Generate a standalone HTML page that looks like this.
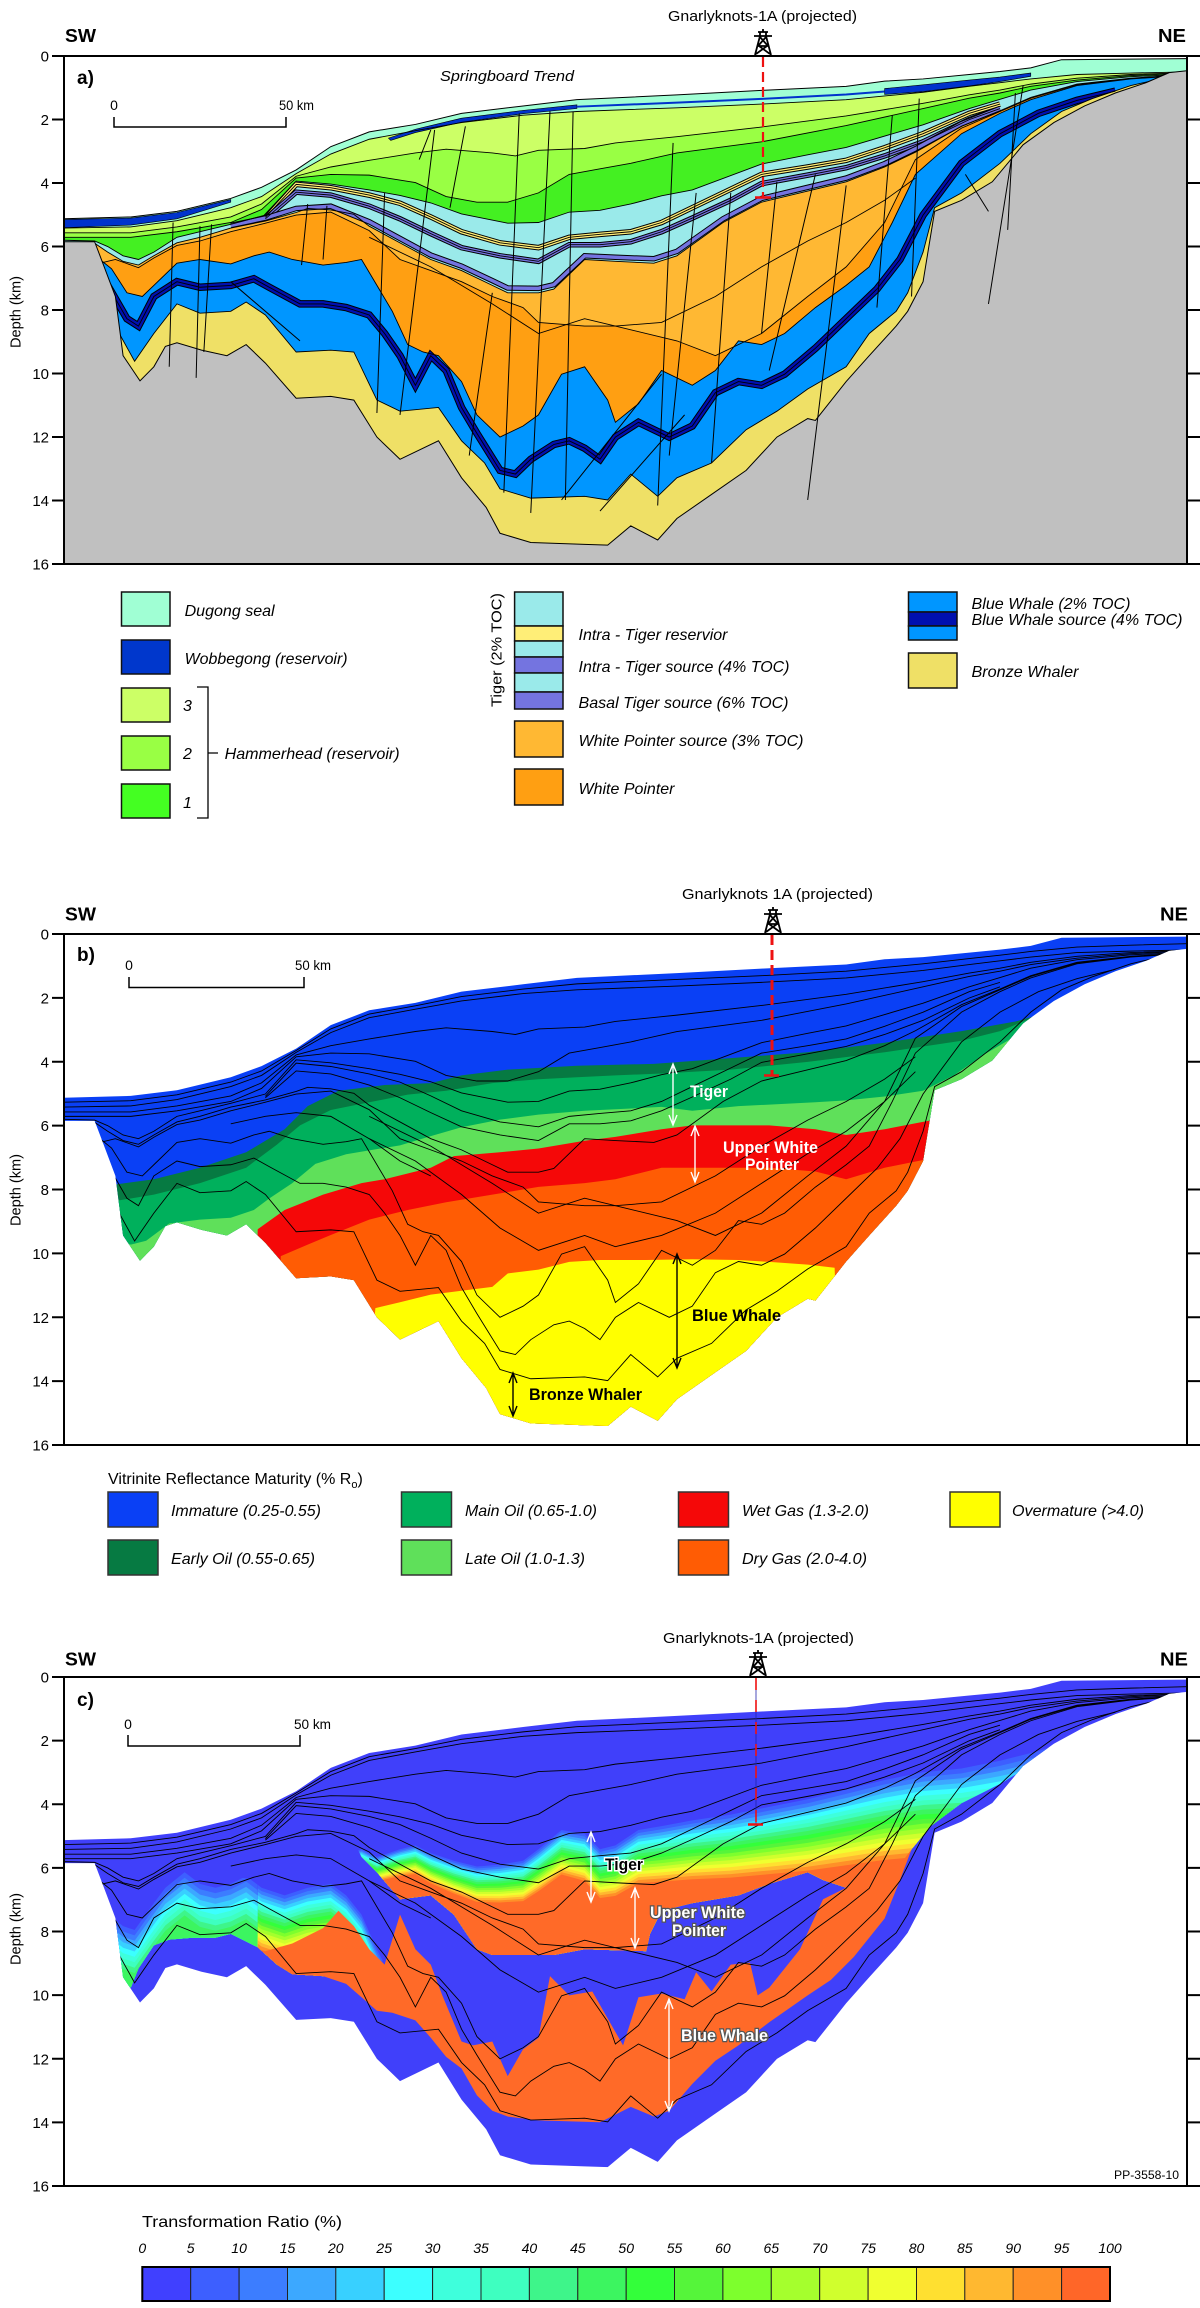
<!DOCTYPE html>
<html><head><meta charset="utf-8">
<style>
html,body{margin:0;padding:0;background:#fff;}
svg{display:block;}
text{font-family:"Liberation Sans",Arial,sans-serif;fill:#000;}
.it{font-style:italic;}
.lbl{font-size:16px;font-style:italic;}
.tk{font-size:15px;}
.hz path{vector-effect:non-scaling-stroke;}
</style></head>
<body>
<svg width="1200" height="2308" viewBox="0 0 1200 2308" xmlns="http://www.w3.org/2000/svg" xmlns:xlink="http://www.w3.org/1999/xlink">
<defs>
<path id="sil" d="M83,590 L170,585 L230,570 L300,535 L340,505 L385,458 L430,395 L480,355 L540,335 L600,305 L680,285 L750,268 L880,255 L990,243 L1100,232 L1150,218 L1200,212 L1260,200 L1300,192 L1340,182 L1380,160 L1543,157 L1543,190 L1520,195 L1490,222 L1450,250 L1410,285 L1370,330 L1330,390 L1290,490 L1250,540 L1215,570 L1200,760 L1180,840 L1165,880 L1130,960 L1100,1030 L1060,1135 L1050,1130 L1010,1180 L970,1270 L925,1335 L880,1400 L855,1458 L820,1420 L790,1472 L760,1470 L690,1465 L650,1440 L632,1370 L600,1290 L570,1190 L520,1240 L490,1180 L460,1080 L430,1070 L385,1075 L345,980 L320,930 L295,960 L262,945 L230,925 L215,935 L200,990 L182,1028 L160,960 L150,800 L130,690 L123,652 L83,652 Z"/>
<clipPath id="cA"><use href="#sil"/></clipPath>
<clipPath id="cB"><use href="#sil" transform="translate(0,47.24) scale(1,0.96767)"/></clipPath>
<clipPath id="cC"><use href="#sil" transform="translate(0,107.64) scale(1,0.96387)"/></clipPath>
<clipPath id="cU"><path d="M460,680 L700,600 L1000,555 L1200,470 L1400,370 L1420,380 L1350,470 L1300,530 L1250,580 L1210,640 L1185,700 L1170,760 L1150,820 L1100,800 L1070,780 L1050,760 L1000,790 L960,820 L900,840 L860,860 L845,920 L840,965 L760,960 L720,975 L640,975 L620,960 L590,870 L560,820 L520,830 L490,760 L470,720 Z"/></clipPath>
<clipPath id="cSL"><path d="M120,850 L160,880 L200,820 L240,740 L300,770 L335,780 L335,955 L320,940 L300,920 L280,930 L250,930 L220,935 L200,950 L180,1010 L170,1060 L155,1040 L140,1000 L130,900 Z"/></clipPath>
<clipPath id="cSR"><path d="M335,700 L400,780 L440,770 L470,850 L500,990 L480,1000 L450,1040 L420,1030 L380,1025 L360,1000 L335,955 Z"/></clipPath>
<path id="t1" d="M460,1600 L460,705 L470,700 L490,720 L520,700 L540,690 L560,710 L590,730 L620,745 L650,740 L680,730 L700,700 L730,650 L760,660 L780,700 L800,690 L830,650 L860,640 L900,625 L950,610 L1000,590 L1050,570 L1100,545 L1150,520 L1200,500 L1250,490 L1300,470 L1350,445 L1400,410 L1560,330 L1560,1600 Z"/>
<path id="t2" d="M125,1600 L125,860 L135,860 L160,900 L175,910 L200,840 L215,800 L240,760 L260,790 L280,800 L300,790 L320,770 L340,800 L370,820 L400,800 L430,790 L450,820 L470,870 L490,960 L500,1000 L510,1600 Z"/>
<g id="hz" class="hz">
<path d="M83,615 L170,612 L230,595 L300,560 L340,530 L385,468 L430,415 L480,375 L540,352 L600,330 L680,310 L750,300 L880,290 L990,280 L1100,268 L1200,248 L1260,232 L1300,222 L1340,212 L1400,200 L1470,196 L1543,193"/>
<path d="M83,628 L170,628 L230,612 L300,585 L340,550 L385,475 L430,450 L480,432 L540,412 L580,402 L640,412 L670,420 L700,405 L760,400 L800,385 L880,368 L990,342 L1100,312 L1200,278 L1260,255 L1300,242 L1340,226 L1400,210 L1470,200 L1543,195"/>
<path d="M83,640 L170,640 L230,625 L300,600 L340,565 L385,480 L430,470 L480,472 L540,492 L580,530 L620,545 L660,545 L700,520 L740,470 L780,455 L820,440 L880,412 L990,382 L1100,338 L1200,292 L1260,264 L1300,250 L1340,232 L1400,215 L1470,203 L1543,196"/>
<path d="M83,648 L123,650 L140,665 L160,690 L180,700 L200,680 L230,640 L260,625 L300,605 L345,580 L385,488 L430,496 L480,512 L520,527 L560,547 L600,577 L660,602 L700,600 L740,572 L780,567 L820,550 L860,528 L900,512 L990,442 L1050,417 L1100,397 L1200,336 L1260,292 L1300,267 L1340,242 L1400,219 L1470,206 L1543,199"/>
<path d="M345,586 L385,497 L430,506 L480,526 L520,548 L560,585 L600,625 L650,655 L700,668 L740,640 L780,632 L820,625 L860,600 L900,560 L950,510 L990,470 L1050,450 L1100,432 L1150,398 L1200,360 L1260,305 L1300,280"/>
<path d="M345,590 L385,518 L430,526 L480,556 L520,590 L560,630 L600,668 L650,690 L700,705 L740,660 L780,660 L820,652 L860,625 L900,588 L950,540 L990,495 L1050,472 L1100,452 L1150,420 L1200,382 L1260,322 L1300,292"/>
<path d="M83,655 L123,656 L140,680 L160,705 L180,715 L200,690 L230,655 L260,640 L300,615 L345,596 L385,573 L400,562 L430,566 L460,578 L480,610 L520,655 L560,700 L600,730 L640,770 L660,790 L700,790 L720,780 L760,700 L800,705 L850,710 L880,690 L940,600 L990,545 L1050,515 L1100,490 L1150,450 L1190,410 L1250,340 L1300,298 L1340,262 L1400,226 L1470,210 L1543,200"/>
<path d="M83,700 L130,710 L150,700 L180,722 L200,696 L230,662 L260,650 L300,625 L345,602 L385,580 L430,572 L480,622 L520,700 L560,730 L600,760 L640,800 L680,830 L700,870 L760,880 L800,880 L880,920 L930,960 L990,900 L1050,800 L1100,720 L1150,600 L1190,430 L1250,345 L1300,300 L1340,264 L1400,228 L1470,211 L1543,201"/>
<path d="M480,640 L560,720 L640,820 L700,900 L760,860 L800,880 L860,870 L930,800 L990,720 L1050,650 L1100,600 L1150,540 L1190,480"/>
<path d="M83,720 L130,700 L145,725 L165,790 L185,800 L200,770 L230,710 L260,700 L300,712 L330,690 L350,680 L380,700 L420,715 L450,708 L470,700 L490,770 L510,840 L530,930 L550,950 L570,960 L600,1030 L620,1120 L650,1180 L680,1150 L700,1120 L730,1010 L760,990 L790,1080 L800,1140 L830,1090 L860,1000 L900,1040 L930,1000 L960,920 L990,930 L1020,900 L1060,830 L1100,770 L1130,720 L1160,600 L1190,470 L1250,360 L1300,305 L1340,268 L1400,230 L1470,212 L1543,202"/>
<path d="M140,770 L165,860 L180,880 L200,800 L230,760 L260,775 L300,770 L330,752 L350,775 L390,820 L420,820 L450,830 L480,850 L500,900 L520,960 L540,1040 L560,960 L580,1000 L600,1100 L620,1170 L650,1270 L670,1280 L690,1240 L720,1200 L740,1190 L760,1210 L780,1240 L800,1180 L830,1140 L870,1180 L900,1150 L930,1060 L960,1030 L990,1040 L1020,1010 L1060,940 L1100,860 L1140,780 L1170,700 L1200,580 L1250,440 L1300,360 L1350,305 L1400,270 L1450,245"/>
<path d="M83,760 L140,780 L155,900 L175,975 L200,900 L230,820 L260,845 L300,840 L320,815 L345,850 L385,950 L430,945 L460,950 L490,1080 L520,1110 L570,1100 L600,1190 L630,1250 L650,1320 L690,1345 L760,1340 L790,1350 L820,1280 L855,1340 L880,1290 L925,1250 L970,1160 L1010,1110 L1050,1050 L1100,990 L1130,900 L1165,840 L1180,790 L1200,680 L1215,560 L1250,520 L1300,440 L1340,360 L1380,300 L1420,265 L1470,230 L1543,195"/>
</g>
<g id="hz2" class="hz">
<path d="M83,602 L170,598 L230,582 L300,548 L340,518 L385,463 L430,405 L480,365 L540,343 L600,318 L680,298 L750,284 L880,272 L990,262 L1100,250 L1200,230 L1260,216 L1300,207 L1340,197 L1400,185 L1470,180 L1543,176"/>
<path d="M480,700 L540,760 L600,850 L650,940 L700,1000 L760,960 L800,990 L860,960 L930,900 L990,820 L1050,740 L1100,680 L1150,600 L1190,520"/>
<path d="M300,660 L345,640 L385,630 L430,640 L480,700 L520,760 L560,800"/>
</g>
<g id="rig" fill="none" stroke="#000" stroke-width="1.8">
<path d="M-8,0 L-3,-19 M8,0 L3,-19 M-9,-19 H9 M-5,-23 H5 M-3,-19 V-23 M3,-19 V-23 M0,-23 V-26 M-6,-9 H6 M-7,-1 L4,-9 M7,-1 L-4,-9 M-5,-9 L3,-18 M5,-9 L-3,-18"/>
</g>
</defs>

<!-- ================= PANEL A ================= -->
<rect x="64" y="56" width="1123" height="508" fill="#c0c0c0"/>
<g transform="translate(0,0.5) scale(0.76923,0.36999)">
 <path d="M83,150 L83,590 L170,585 L230,570 L300,535 L340,505 L385,458 L430,395 L480,355 L540,335 L600,305 L680,285 L750,268 L880,255 L990,243 L1100,232 L1150,218 L1200,212 L1260,200 L1300,192 L1340,182 L1380,160 L1543,157 L1543,150 Z" fill="#fff"/>
 <g clip-path="url(#cA)">
  <rect x="0" y="100" width="1600" height="1500" fill="#a0ffd4"/>
  <path fill="#ccff66" d="M83,1600 L83,615 L170,612 L230,595 L300,560 L340,530 L385,468 L430,415 L480,375 L540,352 L600,330 L680,310 L750,300 L880,290 L990,280 L1100,268 L1200,248 L1260,232 L1300,222 L1340,212 L1400,200 L1470,196 L1543,193 L1543,1600 Z"/>
  <path fill="#99ff44" d="M83,1600 L83,628 L170,628 L230,612 L300,585 L340,550 L385,475 L430,450 L480,432 L540,412 L580,402 L640,412 L670,420 L700,405 L760,400 L800,385 L880,368 L990,342 L1100,312 L1200,278 L1260,255 L1300,242 L1340,226 L1400,210 L1470,200 L1543,195 L1543,1600 Z"/>
  <path fill="#44f022" d="M83,1600 L83,640 L170,640 L230,625 L300,600 L340,565 L385,480 L430,470 L480,472 L540,492 L580,530 L620,545 L660,545 L700,520 L740,470 L780,455 L820,440 L880,412 L990,382 L1100,338 L1200,292 L1260,264 L1300,250 L1340,232 L1400,215 L1470,203 L1543,196 L1543,1600 Z"/>
  <path fill="#9aeaea" d="M83,1600 L83,648 L123,650 L140,665 L160,690 L180,700 L200,680 L230,640 L260,625 L300,605 L345,580 L385,488 L430,496 L480,512 L520,527 L560,547 L600,577 L660,602 L700,600 L740,572 L780,567 L820,550 L860,528 L900,512 L990,442 L1050,417 L1100,397 L1200,336 L1260,292 L1300,267 L1340,242 L1400,219 L1470,206 L1543,199 L1543,1600 Z"/>
  <path fill="#ffb833" d="M83,1600 L83,655 L123,656 L140,680 L160,705 L180,715 L200,690 L230,655 L260,640 L300,615 L345,596 L385,573 L400,562 L430,566 L460,578 L480,610 L520,655 L560,700 L600,730 L640,770 L660,790 L700,790 L720,780 L760,700 L800,705 L850,710 L880,690 L940,600 L990,545 L1050,515 L1100,490 L1150,450 L1190,410 L1250,340 L1300,298 L1340,262 L1400,226 L1470,210 L1543,200 L1543,1600 Z"/>
  <path fill="#ff9f12" d="M83,1600 L83,700 L130,710 L150,700 L180,722 L200,696 L230,662 L260,650 L300,625 L345,602 L385,580 L430,572 L480,622 L520,700 L560,730 L600,760 L640,800 L680,830 L700,870 L760,880 L800,880 L880,920 L930,960 L990,900 L1050,800 L1100,720 L1150,600 L1190,430 L1250,345 L1300,300 L1340,264 L1400,228 L1470,211 L1543,201 L1543,1600 Z"/>
  <path fill="#0096ff" d="M83,1600 L83,720 L130,700 L145,725 L165,790 L185,800 L200,770 L230,710 L260,700 L300,712 L330,690 L350,680 L380,700 L420,715 L450,708 L470,700 L490,770 L510,840 L530,930 L550,950 L570,960 L600,1030 L620,1120 L650,1180 L680,1150 L700,1120 L730,1010 L760,990 L790,1080 L800,1140 L830,1090 L860,1000 L900,1040 L930,1000 L960,920 L990,930 L1020,900 L1060,830 L1100,770 L1130,720 L1160,600 L1190,470 L1250,360 L1300,305 L1340,268 L1400,230 L1470,212 L1543,202 L1543,1600 Z"/>
  <path fill="none" stroke="#000" stroke-width="7.5" vector-effect="non-scaling-stroke" d="M140,770 L165,860 L180,880 L200,800 L230,760 L260,775 L300,770 L330,752 L350,775 L390,820 L420,820 L450,830 L480,850 L500,900 L520,960 L540,1040 L560,960 L580,1000 L600,1100 L620,1170 L650,1270 L670,1280 L690,1240 L720,1200 L740,1190 L760,1210 L780,1240 L800,1180 L830,1140 L870,1180 L900,1150 L930,1060 L960,1030 L990,1040 L1020,1010 L1060,940 L1100,860 L1140,780 L1170,700 L1200,580 L1250,440 L1300,360 L1350,305 L1400,270 L1450,245"/>
  <path fill="none" stroke="#0010b0" stroke-width="5.5" vector-effect="non-scaling-stroke" d="M140,770 L165,860 L180,880 L200,800 L230,760 L260,775 L300,770 L330,752 L350,775 L390,820 L420,820 L450,830 L480,850 L500,900 L520,960 L540,1040 L560,960 L580,1000 L600,1100 L620,1170 L650,1270 L670,1280 L690,1240 L720,1200 L740,1190 L760,1210 L780,1240 L800,1180 L830,1140 L870,1180 L900,1150 L930,1060 L960,1030 L990,1040 L1020,1010 L1060,940 L1100,860 L1140,780 L1170,700 L1200,580 L1250,440 L1300,360 L1350,305 L1400,270 L1450,245"/>
  <path fill="#efe066" d="M83,1600 L83,760 L140,780 L155,900 L175,975 L200,900 L230,820 L260,845 L300,840 L320,815 L345,850 L385,950 L430,945 L460,950 L490,1080 L520,1110 L570,1100 L600,1190 L630,1250 L650,1320 L690,1345 L760,1340 L790,1350 L820,1280 L855,1340 L880,1290 L925,1250 L970,1160 L1010,1110 L1050,1050 L1100,990 L1130,900 L1165,840 L1180,790 L1200,680 L1215,560 L1250,520 L1300,440 L1340,360 L1380,300 L1420,265 L1470,230 L1543,195 L1543,1600 Z"/>
  <!-- wobbegong -->
  <path fill="#0033cc" stroke="#000" stroke-width="0.6" vector-effect="non-scaling-stroke" d="M83,592 L170,588 L230,573 L300,538 L300,545 L230,590 L170,607 L83,614 Z"/>
  <path fill="#0033cc" stroke="#000" stroke-width="0.6" vector-effect="non-scaling-stroke" d="M505,372 L540,348 L600,318 L680,297 L750,282 L750,292 L680,306 L600,329 L540,357 L508,378 Z"/>
  <path fill="#0033cc" stroke="#000" stroke-width="0.6" vector-effect="non-scaling-stroke" d="M1150,238 L1200,228 L1260,215 L1300,207 L1340,196 L1340,205 L1300,219 L1260,231 L1200,246 L1150,254 Z"/>
  <path fill="none" stroke="#0033cc" stroke-width="2" vector-effect="non-scaling-stroke" d="M750,287 L880,276 L990,266 L1100,254 L1150,246"/>
  <!-- intra tiger -->
  <g fill="none">
   <path stroke="#000" stroke-width="5.5" vector-effect="non-scaling-stroke" d="M345,586 L385,497 L430,506 L480,526 L520,548 L560,585 L600,625 L650,655 L700,668 L740,640 L780,632 L820,625 L860,600 L900,560 L950,510 L990,470 L1050,450 L1100,432 L1150,398 L1200,360 L1260,305 L1300,280"/>
   <path stroke="#ffee77" stroke-width="3.5" vector-effect="non-scaling-stroke" d="M345,586 L385,497 L430,506 L480,526 L520,548 L560,585 L600,625 L650,655 L700,668 L740,640 L780,632 L820,625 L860,600 L900,560 L950,510 L990,470 L1050,450 L1100,432 L1150,398 L1200,360 L1260,305 L1300,280"/>
   <path stroke="#000" stroke-width="5.5" vector-effect="non-scaling-stroke" d="M345,590 L385,518 L430,526 L480,556 L520,590 L560,630 L600,668 L650,690 L700,705 L740,660 L780,660 L820,652 L860,625 L900,588 L950,540 L990,495 L1050,472 L1100,452 L1150,420 L1200,382 L1260,322 L1300,292"/>
   <path stroke="#7474e0" stroke-width="3.5" vector-effect="non-scaling-stroke" d="M345,590 L385,518 L430,526 L480,556 L520,590 L560,630 L600,668 L650,690 L700,705 L740,660 L780,660 L820,652 L860,625 L900,588 L950,540 L990,495 L1050,472 L1100,452 L1150,420 L1200,382 L1260,322 L1300,292"/>
   <path stroke="#000" stroke-width="5.5" vector-effect="non-scaling-stroke" d="M300,608 L345,588 L385,562 L430,556 L480,598 L520,643 L560,688 L600,718 L640,757 L660,777 L700,778 L720,768 L760,690 L800,694 L850,698 L880,678 L940,590 L990,535 L1050,505 L1100,480 L1150,441 L1190,401 L1250,333 L1300,292"/>
   <path stroke="#7474e0" stroke-width="3.5" vector-effect="non-scaling-stroke" d="M300,608 L345,588 L385,562 L430,556 L480,598 L520,643 L560,688 L600,718 L640,757 L660,777 L700,778 L720,768 L760,690 L800,694 L850,698 L880,678 L940,590 L990,535 L1050,505 L1100,480 L1150,441 L1190,401 L1250,333 L1300,292"/>
  </g>
  <use href="#hz" fill="none" stroke="#000" stroke-width="0.9"/>
 </g>
 <g class="hz" fill="none" stroke="#000" stroke-width="1">
  <path d="M83,590 L170,585 L230,570 L300,535 L340,505 L385,458 L430,395 L480,355 L540,335 L600,305 L680,285 L750,268 L880,255 L990,243 L1100,232 L1150,218 L1200,212 L1260,200 L1300,192 L1340,182 L1380,160 L1543,157"/>
  <path d="M83,652 L123,652 L130,690 L150,800 L160,960 L182,1028 L200,990 L215,935 L230,925 L262,945 L295,960 L320,930 L345,980 L385,1075 L430,1070 L460,1080 L490,1180 L520,1240 L570,1190 L600,1290 L632,1370 L650,1440 L690,1465 L760,1470 L790,1472 L820,1420 L855,1458 L880,1400 L925,1335 L970,1270 L1010,1180 L1050,1130 L1060,1135 L1100,1030 L1130,960 L1165,880 L1180,840 L1200,760 L1215,570 L1250,540 L1290,490 L1330,390 L1370,330 L1410,285 L1450,250 L1490,222 L1520,195 L1543,190"/>
  <path d="M565,350 L520,1120 M605,340 L585,560 M675,305 L655,1330 M715,300 L690,1385 M745,300 L735,1350 M875,385 L855,1365 M1100,500 L1050,1350 M1195,265 L1185,800 M1330,230 L1285,820 M1320,250 L1310,620 M1160,310 L1140,830 M400,550 L392,715 M425,555 L420,700 M260,610 L255,1020 M225,600 L220,990 M275,605 L265,950 M500,520 L490,1115 M1060,470 L1000,1000 M950,520 L925,1250 M905,520 L870,1230 M780,1380 L890,1120 M730,1350 L860,1010 M640,790 L610,1230 M1255,470 L1285,570 M1010,490 L990,900 M545,430 L560,350 M300,760 L390,920"/>
 </g>
</g>
<!-- frame a -->
<rect x="64" y="56" width="1123" height="508" fill="none" stroke="#000" stroke-width="2"/>
<path d="M52,56 H64 M52,119.5 H64 M52,183 H64 M52,246.5 H64 M52,310 H64 M52,373.5 H64 M52,437 H64 M52,500.5 H64 M52,564 H64 M1187,56 H1200 M1187,119.5 H1200 M1187,183 H1200 M1187,246.5 H1200 M1187,310 H1200 M1187,373.5 H1200 M1187,437 H1200 M1187,500.5 H1200 M1187,564 H1200" stroke="#000" stroke-width="2"/>
<g class="tk" text-anchor="end">
<text x="49" y="61.5">0</text><text x="49" y="125">2</text><text x="49" y="188.5">4</text><text x="49" y="252">6</text><text x="49" y="315.5">8</text><text x="49" y="379">10</text><text x="49" y="442.5">12</text><text x="49" y="506">14</text><text x="49" y="569.5">16</text>
</g>
<text transform="translate(20.5,312) rotate(-90)" text-anchor="middle" font-size="15" textLength="72" lengthAdjust="spacingAndGlyphs">Depth (km)</text>
<text x="65" y="42" font-size="18" font-weight="bold" textLength="31" lengthAdjust="spacingAndGlyphs">SW</text>
<text x="1158" y="42" font-size="18" font-weight="bold" textLength="28" lengthAdjust="spacingAndGlyphs">NE</text>
<text x="668" y="21" font-size="15" textLength="189" lengthAdjust="spacingAndGlyphs">Gnarlyknots-1A (projected)</text>
<use href="#rig" transform="translate(763,55)"/>
<path d="M763,57 V197" stroke="#ee1111" stroke-width="2.2" stroke-dasharray="10,5"/>
<path d="M755,197.5 H771" stroke="#ee1111" stroke-width="2.5"/>
<text x="77" y="84" font-size="19" font-weight="bold">a)</text>
<text x="440" y="81" font-size="15" class="it" textLength="134" lengthAdjust="spacingAndGlyphs">Springboard Trend</text>
<path d="M114,117 V127 H286 V117" fill="none" stroke="#000" stroke-width="1.5"/>
<text x="114" y="110" font-size="14" text-anchor="middle">0</text>
<text x="279" y="110" font-size="14" textLength="35" lengthAdjust="spacingAndGlyphs">50 km</text>

<!-- legend a -->
<g stroke="#111" stroke-width="1.5">
<rect x="121.5" y="592" width="48.5" height="34" fill="#a0ffd4"/>
<rect x="121.5" y="640" width="48.5" height="34" fill="#0037cc"/>
<rect x="121.5" y="688" width="48.5" height="34" fill="#ccff66"/>
<rect x="121.5" y="736" width="48.5" height="34" fill="#99ff44"/>
<rect x="121.5" y="784" width="48.5" height="34" fill="#44ff22"/>
<rect x="514.6" y="592" width="48.4" height="34" fill="#9aeaea"/>
<rect x="514.6" y="626" width="48.4" height="15" fill="#ffee77"/>
<rect x="514.6" y="641" width="48.4" height="16" fill="#9aeaea"/>
<rect x="514.6" y="657" width="48.4" height="16" fill="#7474e0"/>
<rect x="514.6" y="673" width="48.4" height="19" fill="#9aeaea"/>
<rect x="514.6" y="692" width="48.4" height="17" fill="#7474e0"/>
<rect x="514.6" y="721" width="48.4" height="36" fill="#ffb833"/>
<rect x="514.6" y="769" width="48.4" height="36" fill="#ff9f12"/>
<rect x="908.5" y="592" width="48.5" height="20" fill="#0096ff"/>
<rect x="908.5" y="612" width="48.5" height="14" fill="#0010b0"/>
<rect x="908.5" y="626" width="48.5" height="14" fill="#0096ff"/>
<rect x="908.5" y="653" width="48.5" height="35" fill="#efe066"/>
</g>
<path d="M197,687 H208 V818 H197 M208,753 H218" fill="none" stroke="#000" stroke-width="1.3"/>
<g class="lbl">
<text x="184.6" y="616" textLength="90" lengthAdjust="spacingAndGlyphs">Dugong seal</text>
<text x="184.6" y="664" textLength="163" lengthAdjust="spacingAndGlyphs">Wobbegong (reservoir)</text>
<text x="183" y="711">3</text>
<text x="183" y="759">2</text>
<text x="183" y="808">1</text>
<text x="224.6" y="759" textLength="175" lengthAdjust="spacingAndGlyphs">Hammerhead (reservoir)</text>
<text x="578.5" y="640" textLength="149" lengthAdjust="spacingAndGlyphs">Intra - Tiger reservior</text>
<text x="578.5" y="672" textLength="211" lengthAdjust="spacingAndGlyphs">Intra - Tiger source (4% TOC)</text>
<text x="578.5" y="708" textLength="210" lengthAdjust="spacingAndGlyphs">Basal Tiger source (6% TOC)</text>
<text x="578.5" y="746" textLength="225" lengthAdjust="spacingAndGlyphs">White Pointer source (3% TOC)</text>
<text x="578.5" y="794" textLength="96" lengthAdjust="spacingAndGlyphs">White Pointer</text>
<text x="971.5" y="609" textLength="159" lengthAdjust="spacingAndGlyphs">Blue Whale (2% TOC)</text>
<text x="971.5" y="625" textLength="211" lengthAdjust="spacingAndGlyphs">Blue Whale source (4% TOC)</text>
<text x="971.5" y="677" textLength="107" lengthAdjust="spacingAndGlyphs">Bronze Whaler</text>
</g>
<text transform="translate(501.5,650) rotate(-90)" text-anchor="middle" font-size="15" textLength="114" lengthAdjust="spacingAndGlyphs">Tiger (2% TOC)</text>

<!-- ================= PANEL B ================= -->
<g transform="translate(0,860) scale(0.76923,0.384615)">
 <g clip-path="url(#cB)">
  <rect x="0" y="0" width="1600" height="1600" fill="#0a40f5"/>
  <path fill="#067a42" d="M120,1600 L130,860 L145,845 L200,830 L260,800 L320,760 L370,700 L400,640 L440,600 L500,585 L560,580 L600,560 L660,545 L750,535 L850,530 L950,515 L1050,500 L1150,475 L1250,445 L1320,420 L1360,398 L1390,360 L1560,330 L1560,1600 Z"/>
  <path fill="#00b05c" d="M125,1600 L140,890 L200,870 L260,840 L320,800 L360,740 L390,690 L430,650 L480,630 L530,610 L580,600 L640,580 L700,570 L750,565 L800,560 L860,555 L950,545 L1050,525 L1150,500 L1250,470 L1300,445 L1340,412 L1370,385 L1560,365 L1560,1600 Z"/>
  <path fill="#5fe05a" d="M130,1600 L140,975 L170,1000 L190,990 L220,945 L260,935 L300,930 L330,910 L350,880 L380,840 L410,790 L450,765 L480,755 L520,742 L560,718 L600,695 L650,675 L700,662 L760,652 L800,648 L860,642 L900,652 L960,640 L1000,636 L1060,630 L1100,625 L1150,615 L1200,600 L1240,560 L1280,505 L1320,458 L1350,422 L1380,392 L1560,385 L1560,1600 Z"/>
  <path fill="#f50808" d="M330,1600 L335,960 L370,910 L420,870 L470,840 L500,830 L560,800 L590,770 L650,760 L700,750 L760,730 L800,720 L860,700 L900,690 L1000,690 L1060,700 L1100,715 L1150,700 L1215,675 L1240,660 L1560,650 L1560,1600 Z"/>
  <path fill="#ff5c04" d="M360,1600 L365,1030 L400,1000 L430,975 L480,935 L530,910 L580,890 L640,870 L700,850 L760,840 L800,830 L860,800 L940,800 L1000,800 L1060,810 L1100,830 L1150,800 L1200,780 L1230,770 L1560,760 L1560,1600 Z"/>
  <path fill="#ffff00" d="M470,1600 L488,1165 L520,1150 L560,1130 L600,1120 L640,1110 L660,1075 L700,1065 L740,1045 L780,1040 L840,1040 L900,1038 L960,1040 L1000,1045 L1050,1052 L1085,1060 L1095,1600 Z"/>
 </g>
</g>
<g transform="translate(0,878.17) scale(0.76923,0.37218)">
 <g clip-path="url(#cA)">
  <use href="#hz" fill="none" stroke="#000" stroke-width="0.9"/>
  <use href="#hz2" fill="none" stroke="#000" stroke-width="0.9"/>
 </g>
</g>
<rect x="64" y="934" width="1123" height="511" fill="none" stroke="#000" stroke-width="2"/>
<path d="M52,934 H64 M52,997.9 H64 M52,1061.8 H64 M52,1125.6 H64 M52,1189.5 H64 M52,1253.4 H64 M52,1317.3 H64 M52,1381.1 H64 M52,1445 H64 M1187,934 H1200 M1187,997.9 H1200 M1187,1061.8 H1200 M1187,1125.6 H1200 M1187,1189.5 H1200 M1187,1253.4 H1200 M1187,1317.3 H1200 M1187,1381.1 H1200 M1187,1445 H1200" stroke="#000" stroke-width="2"/>
<g class="tk" text-anchor="end">
<text x="49" y="939.5">0</text><text x="49" y="1003.4">2</text><text x="49" y="1067.3">4</text><text x="49" y="1131.1">6</text><text x="49" y="1195">8</text><text x="49" y="1258.9">10</text><text x="49" y="1322.8">12</text><text x="49" y="1386.6">14</text><text x="49" y="1450.5">16</text>
</g>
<text transform="translate(20.5,1190) rotate(-90)" text-anchor="middle" font-size="15" textLength="72" lengthAdjust="spacingAndGlyphs">Depth (km)</text>
<text x="65" y="920.5" font-size="18" font-weight="bold" textLength="31" lengthAdjust="spacingAndGlyphs">SW</text>
<text x="1160" y="920.5" font-size="18" font-weight="bold" textLength="28" lengthAdjust="spacingAndGlyphs">NE</text>
<text x="682" y="899" font-size="15" textLength="191" lengthAdjust="spacingAndGlyphs">Gnarlyknots 1A (projected)</text>
<use href="#rig" transform="translate(773,933)"/>
<path d="M772,935 V1075" stroke="#ee1111" stroke-width="3" stroke-dasharray="10,5"/>
<path d="M764,1075.5 H779" stroke="#ee1111" stroke-width="2.5"/>
<text x="77" y="961" font-size="19" font-weight="bold">b)</text>
<path d="M129,977 V987.5 H304 V977" fill="none" stroke="#000" stroke-width="1.5"/>
<text x="129" y="970" font-size="14" text-anchor="middle">0</text>
<text x="295" y="970" font-size="14" textLength="36" lengthAdjust="spacingAndGlyphs">50 km</text>
<!-- b arrows & labels -->
<g fill="none" stroke-width="1.4">
<path stroke="#fff" d="M673,1064 V1125 M669,1074 L673,1064 L677,1074 M669,1115 L673,1125 L677,1115"/>
<path stroke="#fff" d="M695,1126 V1182 M691,1136 L695,1126 L699,1136 M691,1172 L695,1182 L699,1172"/>
<path stroke="#000" d="M677,1254 V1368 M673,1264 L677,1254 L681,1264 M673,1358 L677,1368 L681,1358"/>
<path stroke="#000" d="M513,1373 V1416 M509,1383 L513,1373 L517,1383 M509,1406 L513,1416 L517,1406"/>
</g>
<g font-size="17" font-weight="bold">
<text x="690" y="1097" style="fill:#fff" textLength="38" lengthAdjust="spacingAndGlyphs">Tiger</text>
<text x="723" y="1153" style="fill:#fff" textLength="95" lengthAdjust="spacingAndGlyphs">Upper White</text>
<text x="745" y="1170" style="fill:#fff" textLength="54" lengthAdjust="spacingAndGlyphs">Pointer</text>
<text x="692" y="1321" textLength="89" lengthAdjust="spacingAndGlyphs">Blue Whale</text>
<text x="529" y="1400" textLength="113" lengthAdjust="spacingAndGlyphs">Bronze Whaler</text>
</g>
<!-- legend b -->
<text x="108" y="1484" font-size="16">Vitrinite Reflectance Maturity (% R<tspan font-size="11" dy="4">o</tspan><tspan dy="-4">)</tspan></text>
<g stroke="#333" stroke-width="1.5">
<rect x="108" y="1492" width="50" height="35" fill="#0a40f5"/>
<rect x="401.5" y="1492" width="50" height="35" fill="#00b05c"/>
<rect x="678.5" y="1492" width="50" height="35" fill="#f50808"/>
<rect x="950" y="1492" width="50" height="35" fill="#ffff00"/>
<rect x="108" y="1540" width="50" height="35" fill="#067a42"/>
<rect x="401.5" y="1540" width="50" height="35" fill="#5fe05a"/>
<rect x="678.5" y="1540" width="50" height="35" fill="#ff5c04"/>
</g>
<g class="lbl">
<text x="171" y="1516" textLength="150" lengthAdjust="spacingAndGlyphs">Immature (0.25-0.55)</text>
<text x="465" y="1516" textLength="132" lengthAdjust="spacingAndGlyphs">Main Oil (0.65-1.0)</text>
<text x="742" y="1516" textLength="127" lengthAdjust="spacingAndGlyphs">Wet Gas (1.3-2.0)</text>
<text x="1012" y="1516" textLength="132" lengthAdjust="spacingAndGlyphs">Overmature (&gt;4.0)</text>
<text x="171" y="1564" textLength="144" lengthAdjust="spacingAndGlyphs">Early Oil (0.55-0.65)</text>
<text x="465" y="1564" textLength="120" lengthAdjust="spacingAndGlyphs">Late Oil (1.0-1.3)</text>
<text x="742" y="1564" textLength="125" lengthAdjust="spacingAndGlyphs">Dry Gas (2.0-4.0)</text>
</g>

<!-- ================= PANEL C ================= -->
<g transform="translate(0,1580) scale(0.76923,0.384615)">
 <g clip-path="url(#cC)">
  <rect x="0" y="0" width="1600" height="1600" fill="#4040fa"/>
  <g clip-path="url(#cU)">
   <use href="#t1" fill="#3d5fff"/>
   <use href="#t1" fill="#3c7dff" transform="matrix(1,0.012143,0,1,0,-2.4286)"/>
   <use href="#t1" fill="#3ca8ff" transform="matrix(1,0.024286,0,1,0,-4.857)"/>
   <use href="#t1" fill="#38d0ff" transform="matrix(1,0.036429,0,1,0,-7.286)"/>
   <use href="#t1" fill="#3cffff" transform="matrix(1,0.048571,0,1,0,-9.714)"/>
   <use href="#t1" fill="#3effdc" transform="matrix(1,0.060714,0,1,0,-12.143)"/>
   <use href="#t1" fill="#3effc0" transform="matrix(1,0.072857,0,1,0,-14.571)"/>
   <use href="#t1" fill="#3ef58a" transform="matrix(1,0.085,0,1,0,-17)"/>
   <use href="#t1" fill="#3cf560" transform="matrix(1,0.097143,0,1,0,-19.429)"/>
   <use href="#t1" fill="#33ff3a" transform="matrix(1,0.109286,0,1,0,-21.857)"/>
   <use href="#t1" fill="#55f53a" transform="matrix(1,0.121429,0,1,0,-24.286)"/>
   <use href="#t1" fill="#7dff2d" transform="matrix(1,0.133571,0,1,0,-26.714)"/>
   <use href="#t1" fill="#a5ff2d" transform="matrix(1,0.145714,0,1,0,-29.143)"/>
   <use href="#t1" fill="#d0ff2d" transform="matrix(1,0.157857,0,1,0,-31.571)"/>
   <use href="#t1" fill="#f0ff30" transform="matrix(1,0.17,0,1,0,-34)"/>
   <use href="#t1" fill="#ffe030" transform="matrix(1,0.182143,0,1,0,-36.429)"/>
   <use href="#t1" fill="#ffb830" transform="matrix(1,0.194286,0,1,0,-38.857)"/>
   <use href="#t1" fill="#ff9028" transform="matrix(1,0.206429,0,1,0,-41.286)"/>
   <use href="#t1" fill="#ff6a28" transform="matrix(1,0.218571,0,1,0,-43.714)"/>
  </g>
  <g clip-path="url(#cSL)">
   <use href="#t2" fill="#3d5fff"/>
   <use href="#t2" fill="#3c7dff" transform="translate(0,14)"/>
   <use href="#t2" fill="#3ca8ff" transform="translate(0,28)"/>
   <use href="#t2" fill="#38d0ff" transform="translate(0,42)"/>
   <use href="#t2" fill="#3cffff" transform="translate(0,56)"/>
   <use href="#t2" fill="#3effdc" transform="translate(0,70)"/>
   <use href="#t2" fill="#3effc0" transform="translate(0,84)"/>
   <use href="#t2" fill="#3ef58a" transform="translate(0,98)"/>
   <use href="#t2" fill="#3cf560" transform="translate(0,112)"/>
  </g>
  <g clip-path="url(#cSR)">
   <use href="#t2" fill="#3d5fff"/>
   <use href="#t2" fill="#3c7dff" transform="translate(0,9)"/>
   <use href="#t2" fill="#3ca8ff" transform="translate(0,18)"/>
   <use href="#t2" fill="#38d0ff" transform="translate(0,27)"/>
   <use href="#t2" fill="#3cffff" transform="translate(0,36)"/>
   <use href="#t2" fill="#3effdc" transform="translate(0,45)"/>
   <use href="#t2" fill="#3effc0" transform="translate(0,54)"/>
   <use href="#t2" fill="#3ef58a" transform="translate(0,63)"/>
   <use href="#t2" fill="#3cf560" transform="translate(0,72)"/>
   <use href="#t2" fill="#33ff3a" transform="translate(0,81)"/>
   <use href="#t2" fill="#55f53a" transform="translate(0,90)"/>
   <use href="#t2" fill="#7dff2d" transform="translate(0,99)"/>
   <use href="#t2" fill="#a5ff2d" transform="translate(0,108)"/>
   <use href="#t2" fill="#d0ff2d" transform="translate(0,117)"/>
   <use href="#t2" fill="#f0ff30" transform="translate(0,126)"/>
   <use href="#t2" fill="#ffe030" transform="translate(0,135)"/>
   <use href="#t2" fill="#ffb830" transform="translate(0,144)"/>
   <use href="#t2" fill="#ff9028" transform="translate(0,153)"/>
   <use href="#t2" fill="#ff6a28" transform="translate(0,162)"/>
  </g>
  <path fill="#ff6a28" d="M345,965 L380,945 L420,905 L440,860 L460,900 L480,960 L500,1000 L520,870 L540,960 L560,1000 L575,1080 L600,1200 L615,1210 L640,1200 L660,1290 L680,1220 L700,1190 L715,1030 L740,1080 L770,1070 L790,1140 L810,1210 L830,1085 L860,1075 L890,1090 L905,1020 L925,1070 L950,1000 L975,995 L985,1080 L1000,1060 L1040,960 L1070,830 L1100,800 L1130,760 L1170,740 L1185,700 L1170,780 L1150,880 L1110,980 L1080,1040 L1050,1080 L1000,1150 L960,1210 L930,1250 L900,1310 L870,1380 L850,1395 L820,1370 L800,1390 L780,1410 L700,1405 L660,1395 L640,1380 L620,1340 L600,1270 L580,1240 L560,1190 L540,1145 L510,1125 L490,1120 L470,1085 L450,1050 L420,1030 L380,1025 L360,1000 Z"/>
 </g>
</g>
<g transform="translate(0,1621.4) scale(0.76923,0.37072)">
 <g clip-path="url(#cA)">
  <use href="#hz" fill="none" stroke="#000" stroke-width="0.9"/>
  <use href="#hz2" fill="none" stroke="#000" stroke-width="0.9"/>
 </g>
</g>
<rect x="64" y="1677" width="1123" height="509" fill="none" stroke="#000" stroke-width="2"/>
<path d="M52,1677 H64 M52,1740.6 H64 M52,1804.3 H64 M52,1867.9 H64 M52,1931.5 H64 M52,1995.1 H64 M52,2058.8 H64 M52,2122.4 H64 M52,2186 H64 M1187,1677 H1200 M1187,1740.6 H1200 M1187,1804.3 H1200 M1187,1867.9 H1200 M1187,1931.5 H1200 M1187,1995.1 H1200 M1187,2058.8 H1200 M1187,2122.4 H1200 M1187,2186 H1200" stroke="#000" stroke-width="2"/>
<g class="tk" text-anchor="end">
<text x="49" y="1682.5">0</text><text x="49" y="1746.1">2</text><text x="49" y="1809.8">4</text><text x="49" y="1873.4">6</text><text x="49" y="1937">8</text><text x="49" y="2000.6">10</text><text x="49" y="2064.3">12</text><text x="49" y="2127.9">14</text><text x="49" y="2191.5">16</text>
</g>
<text transform="translate(20.5,1929) rotate(-90)" text-anchor="middle" font-size="15" textLength="72" lengthAdjust="spacingAndGlyphs">Depth (km)</text>
<text x="65" y="1665.5" font-size="18" font-weight="bold" textLength="31" lengthAdjust="spacingAndGlyphs">SW</text>
<text x="1160" y="1665.5" font-size="18" font-weight="bold" textLength="28" lengthAdjust="spacingAndGlyphs">NE</text>
<text x="663" y="1643" font-size="15" textLength="191" lengthAdjust="spacingAndGlyphs">Gnarlyknots-1A (projected)</text>
<use href="#rig" transform="translate(758,1676)"/>
<path d="M756,1678 V1824" stroke="#2222aa" stroke-width="0.8"/>
<path d="M756,1678 V1824" stroke="#ee1111" stroke-width="1.6" stroke-dasharray="12,10"/>
<path d="M748,1824.5 H763" stroke="#ee1111" stroke-width="2.5"/>
<text x="77" y="1706" font-size="19" font-weight="bold">c)</text>
<path d="M128,1735 V1746 H300 V1735" fill="none" stroke="#000" stroke-width="1.5"/>
<text x="128" y="1729" font-size="14" text-anchor="middle">0</text>
<text x="294" y="1729" font-size="14" textLength="37" lengthAdjust="spacingAndGlyphs">50 km</text>
<g fill="none" stroke="#fff" stroke-width="1.4">
<path d="M591,1832 V1902 M587,1842 L591,1832 L595,1842 M587,1892 L591,1902 L595,1892"/>
<path d="M635,1888 V1948 M631,1898 L635,1888 L639,1898 M631,1938 L635,1948 L639,1938"/>
<path d="M669,1999 V2111 M665,2009 L669,1999 L673,2009 M665,2101 L669,2111 L673,2101"/>
</g>
<g font-size="17" font-weight="bold">
<text x="605" y="1870" style="fill:#000;stroke:#fff;stroke-width:3;paint-order:stroke" textLength="38" lengthAdjust="spacingAndGlyphs">Tiger</text>
<text x="650" y="1918" style="fill:#fff;stroke:#555;stroke-width:2.5;paint-order:stroke" textLength="95" lengthAdjust="spacingAndGlyphs">Upper White</text>
<text x="672" y="1936" style="fill:#fff;stroke:#555;stroke-width:2.5;paint-order:stroke" textLength="54" lengthAdjust="spacingAndGlyphs">Pointer</text>
<text x="681" y="2041" style="fill:#fff;stroke:#555;stroke-width:2.5;paint-order:stroke" textLength="87" lengthAdjust="spacingAndGlyphs">Blue Whale</text>
</g>
<text x="1114" y="2179" font-size="12" textLength="65" lengthAdjust="spacingAndGlyphs">PP-3558-10</text>

<!-- colorbar -->
<text x="142" y="2227" font-size="16" textLength="200" lengthAdjust="spacingAndGlyphs">Transformation Ratio (%)</text>
<g font-size="14" font-style="italic" text-anchor="middle">
<text x="142.3" y="2253">0</text><text x="190.7" y="2253">5</text><text x="239.1" y="2253">10</text><text x="287.5" y="2253">15</text><text x="335.8" y="2253">20</text><text x="384.2" y="2253">25</text><text x="432.6" y="2253">30</text><text x="481" y="2253">35</text><text x="529.4" y="2253">40</text><text x="577.8" y="2253">45</text><text x="626.2" y="2253">50</text><text x="674.5" y="2253">55</text><text x="722.9" y="2253">60</text><text x="771.3" y="2253">65</text><text x="819.7" y="2253">70</text><text x="868.1" y="2253">75</text><text x="916.5" y="2253">80</text><text x="964.8" y="2253">85</text><text x="1013.2" y="2253">90</text><text x="1061.6" y="2253">95</text><text x="1110" y="2253">100</text>
</g>
<g stroke="#222" stroke-width="1">
<rect x="142.3" y="2267" width="48.4" height="34" fill="#4040ff"/>
<rect x="190.7" y="2267" width="48.4" height="34" fill="#3d5fff"/>
<rect x="239.1" y="2267" width="48.4" height="34" fill="#3c7dff"/>
<rect x="287.5" y="2267" width="48.4" height="34" fill="#3ca8ff"/>
<rect x="335.8" y="2267" width="48.4" height="34" fill="#38d0ff"/>
<rect x="384.2" y="2267" width="48.4" height="34" fill="#3cffff"/>
<rect x="432.6" y="2267" width="48.4" height="34" fill="#3effdc"/>
<rect x="481" y="2267" width="48.4" height="34" fill="#3effc0"/>
<rect x="529.4" y="2267" width="48.4" height="34" fill="#3ef58a"/>
<rect x="577.8" y="2267" width="48.4" height="34" fill="#3cf560"/>
<rect x="626.2" y="2267" width="48.4" height="34" fill="#33ff3a"/>
<rect x="674.5" y="2267" width="48.4" height="34" fill="#55f53a"/>
<rect x="722.9" y="2267" width="48.4" height="34" fill="#7dff2d"/>
<rect x="771.3" y="2267" width="48.4" height="34" fill="#a5ff2d"/>
<rect x="819.7" y="2267" width="48.4" height="34" fill="#d0ff2d"/>
<rect x="868.1" y="2267" width="48.4" height="34" fill="#f0ff30"/>
<rect x="916.5" y="2267" width="48.4" height="34" fill="#ffe030"/>
<rect x="964.8" y="2267" width="48.4" height="34" fill="#ffb830"/>
<rect x="1013.2" y="2267" width="48.4" height="34" fill="#ff9028"/>
<rect x="1061.6" y="2267" width="48.4" height="34" fill="#ff6628"/>
</g>
<rect x="142.3" y="2267" width="967.7" height="34" fill="none" stroke="#000" stroke-width="2"/>
</svg>
</body></html>
